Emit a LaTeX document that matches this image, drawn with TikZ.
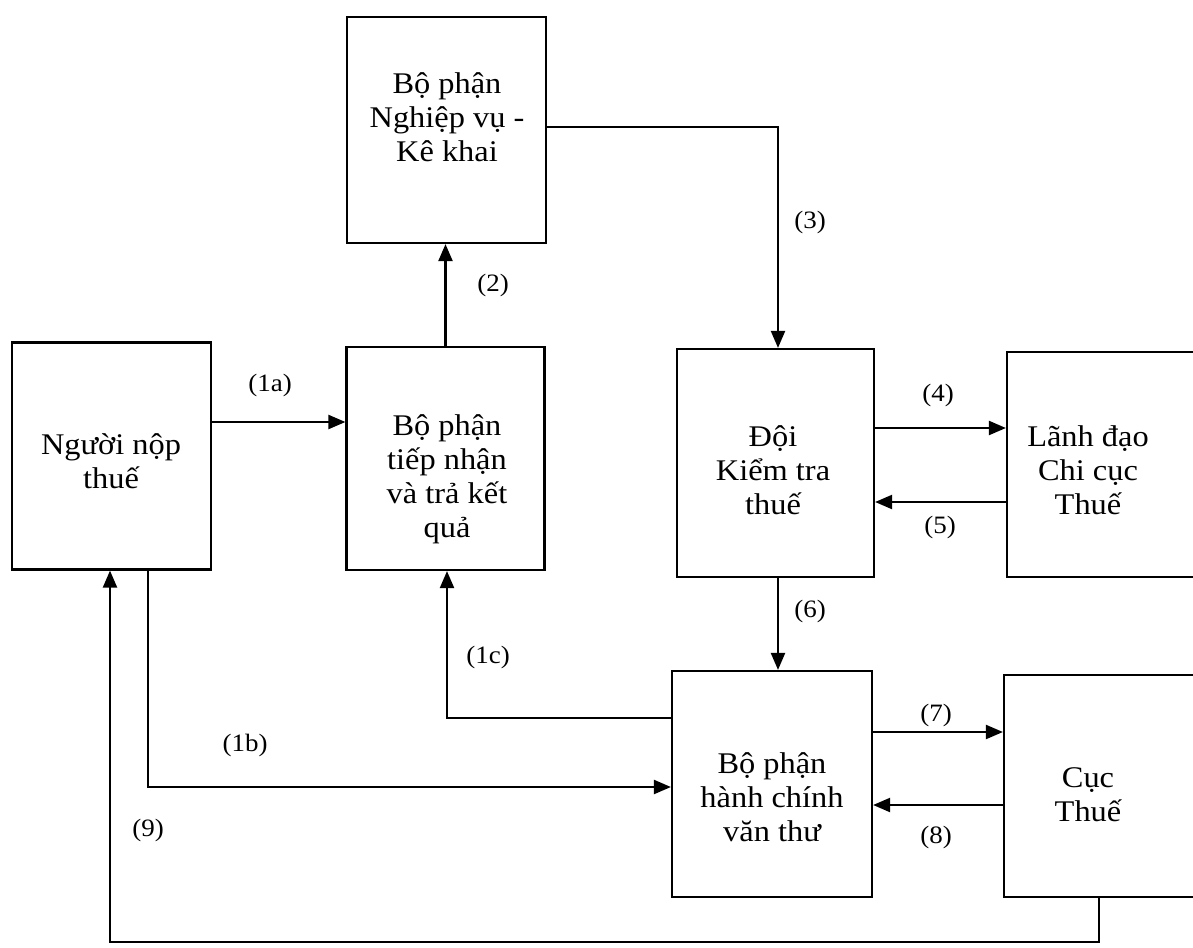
\documentclass[tikz,border=0pt]{standalone}
\usepackage{fontspec}
\setmainfont[FakeStretch=1.08]{Liberation Serif}
\usetikzlibrary{arrows.meta}
\begin{document}
\begin{tikzpicture}[x=1pt,y=-1pt,
  box/.style={draw, line width=2.2pt, rectangle, inner sep=0pt},
  txt/.style={align=center, inner sep=0pt, font=\fontsize{30}{34}\selectfont},
  lbl/.style={inner sep=0pt, font=\fontsize{25}{28}\selectfont},
  arr/.style={line width=2.2pt, -{Triangle[length=17pt,width=14pt]}}]
\useasboundingbox (0,0) rectangle (1193,947);
\clip (0,0) rectangle (1193,947);
\fill[white] (0,0) rectangle (1193,947);

% boxes
\node[box, minimum width=199pt, minimum height=227pt] (nguoi) at (111.5,456) {};
\node[box, minimum width=198pt, minimum height=223pt] (tiep) at (445.5,458.5) {};
\node[box, minimum width=199pt, minimum height=226pt] (nv) at (446.5,130) {};
\node[box, minimum width=197pt, minimum height=228pt] (doi) at (775.5,463) {};
\node[box, minimum width=220pt, minimum height=225pt] (ld) at (1117,464.5) {};
\node[box, minimum width=200pt, minimum height=226pt] (hc) at (772,784) {};
\node[box, minimum width=220pt, minimum height=222pt] (cuc) at (1114,786) {};

% texts
\node[txt] (nguoiT) at (111,461) {Người nộp\\thuế};
\node[txt] (tiepT) at (447,479) {Bộ phận\\tiếp nhận\\và trả kết\\quả};
\node[txt] (nvT) at (447,117) {Bộ phận\\Nghiệp vụ -\\Kê khai};
\node[txt] (doiT) at (773,470) {Đội\\Kiểm tra\\thuế};
\node[txt] (ldT) at (1088,470) {Lãnh đạo\\Chi cục\\Thuế};
\node[txt] (hcT) at (772,797) {Bộ phận\\hành chính\\văn thư};
\node[txt] (cucT) at (1088,795) {Cục\\Thuế};

% helper coordinates
\coordinate (y1a) at (0,422);
\coordinate (c3) at (778,127);
\coordinate (y4) at (0,428);
\coordinate (y5) at (0,502);
\coordinate (x6) at (778,0);
\coordinate (c1c) at (447,718);
\coordinate (c1b) at (148,787);
\coordinate (y7) at (0,732);
\coordinate (y8) at (0,805);
\coordinate (c9a) at (1099,942);
\coordinate (c9b) at (110,942);

% connectors
\draw[arr] (nguoi.east |- y1a) -- (tiep.west |- y1a);
\draw[arr] (tiep.north) -- (tiep.north |- nv.south);
\draw[arr] (nv.east |- c3) -- (c3) -- (c3 |- doi.north);
\draw[arr] (doi.east |- y4) -- (ld.west |- y4);
\draw[arr] (ld.west |- y5) -- (doi.east |- y5);
\draw[arr] (doi.south -| x6) -- (hc.north -| x6);
\draw[arr] (hc.west |- c1c) -- (c1c) -- (c1c |- tiep.south);
\draw[arr] (nguoi.south -| c1b) -- (c1b) -- (hc.west |- c1b);
\draw[arr] (hc.east |- y7) -- (cuc.west |- y7);
\draw[arr] (cuc.west |- y8) -- (hc.east |- y8);
\draw[arr] (cuc.south -| c9a) -- (c9a) -- (c9b) -- (c9b |- nguoi.south);

% labels
\node[lbl] (l1a) at (270,385) {(1a)};
\node[lbl] (l2) at (493,285) {(2)};
\node[lbl] (l3) at (810,222) {(3)};
\node[lbl] (l4) at (938,395) {(4)};
\node[lbl] (l5) at (940,527) {(5)};
\node[lbl] (l6) at (810,611) {(6)};
\node[lbl] (l1c) at (488,657) {(1c)};
\node[lbl] (l7) at (936,715) {(7)};
\node[lbl] (l8) at (936,837) {(8)};
\node[lbl] (l1b) at (245,745) {(1b)};
\node[lbl] (l9) at (148,830) {(9)};
\end{tikzpicture}
\end{document}
